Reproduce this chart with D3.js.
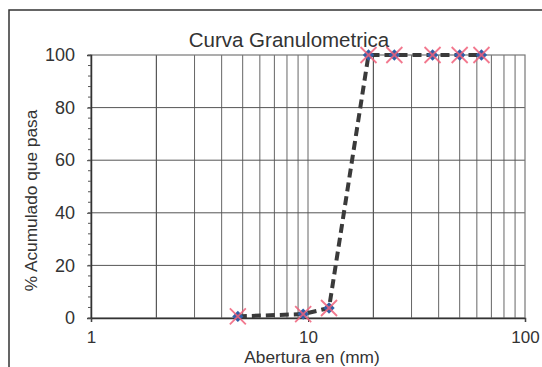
<!DOCTYPE html>
<html>
<head>
<meta charset="utf-8">
<script src="https://cdn.jsdelivr.net/npm/d3@7"></script>
<style>
  body { margin: 0; background: #fff; }
  svg { display: block; font-family: "Liberation Sans", Arial, sans-serif; }
</style>
</head>
<body>
<div id="chart"></div>
<script>
'use strict';

// sieve openings (mm) and cumulative % passing
const aberturas = [4.75, 9.5, 12.5, 19, 25, 37.5, 50, 63];
const pasa = [0.6, 1.5, 3.8, 100, 100, 100, 100, 100];
const y_ticks = [0, 20, 40, 60, 80, 100];
const x_ticks = [1, 10, 100];

const dims = { width: 542, height: 367, left: 91, right: 525, top: 55, bottom: 318 };
const font = '"Liberation Sans", Arial, sans-serif';

const svg = d3.select('#chart').append('svg')
  .attr('width', dims.width)
  .attr('height', dims.height);

// outer frame
svg.append('path')
  .attr('d', `M9,${dims.height} L9,10 L${dims.width},10`)
  .attr('fill', 'none')
  .attr('stroke', '#333')
  .attr('stroke-width', 1.5);

const xScale = d3.scaleLog().domain([1, 100]).range([dims.left, dims.right]);
const yScale = d3.scaleLinear().domain([0, 100]).range([dims.bottom, dims.top]);

// vertical log grid
const x_grid = [];
for (let dec = 1; dec < 100; dec *= 10) {
  for (let k = 2; k <= 9; k++) x_grid.push(dec * k);
}
x_grid.push(10);
svg.append('g').selectAll('line')
  .data(x_grid)
  .join('line')
  .attr('x1', d => xScale(d)).attr('x2', d => xScale(d))
  .attr('y1', dims.top).attr('y2', dims.bottom)
  .attr('stroke', d => (d === 2 || d === 20) ? '#333' : '#666')
  .attr('stroke-width', 1);

// horizontal grid
svg.append('g').selectAll('line')
  .data(y_ticks.filter(d => d > 0 && d < 100))
  .join('line')
  .attr('x1', dims.left).attr('x2', dims.right)
  .attr('y1', d => yScale(d)).attr('y2', d => yScale(d))
  .attr('stroke', '#555')
  .attr('stroke-width', 1);

// plot border
svg.append('rect')
  .attr('x', dims.left).attr('y', dims.top)
  .attr('width', dims.right - dims.left)
  .attr('height', dims.bottom - dims.top)
  .attr('fill', 'none')
  .attr('stroke', '#777')
  .attr('stroke-width', 1.2);

// y axis
const yAxis = d3.axisLeft(yScale).tickValues(y_ticks).tickSize(4).tickPadding(12);
const yAxisG = svg.append('g')
  .attr('transform', `translate(${dims.left},0)`)
  .call(yAxis);
yAxisG.select('.domain').attr('stroke', '#333').attr('stroke-width', 1.5);
yAxisG.selectAll('.tick line').attr('stroke', '#444');
yAxisG.selectAll('text').style('font-size', '18px').attr('fill', '#333')
  .style('font-family', font);

// minor ticks every 4
const y_minor = d3.range(0, 101, 4);
svg.append('g').selectAll('line')
  .data(y_minor)
  .join('line')
  .attr('x1', dims.left - 3).attr('x2', dims.left)
  .attr('y1', d => yScale(d)).attr('y2', d => yScale(d))
  .attr('stroke', '#555');

// x axis
const xAxis = d3.axisBottom(xScale).tickValues(x_ticks).tickFormat(d3.format('d')).tickSize(4).tickPadding(9);
const xAxisG = svg.append('g')
  .attr('transform', `translate(0,${dims.bottom})`)
  .call(xAxis);
xAxisG.select('.domain').attr('stroke', '#333').attr('stroke-width', 1.5);
xAxisG.selectAll('.tick line').attr('stroke', '#444');
xAxisG.selectAll('text').style('font-size', '17px').attr('fill', '#333')
  .style('font-family', font);

// titles
svg.append('text')
  .attr('x', 289).attr('y', 47)
  .attr('text-anchor', 'middle')
  .style('font-size', '20.5px')
  .attr('fill', '#333')
  .text('Curva Granulometrica');

svg.append('text')
  .attr('x', 312).attr('y', 363)
  .attr('text-anchor', 'middle')
  .style('font-size', '17.3px')
  .attr('fill', '#333')
  .text('Abertura en (mm)');

svg.append('text')
  .attr('transform', `translate(37,${(dims.top + dims.bottom) / 2 + 14}) rotate(-90)`)
  .attr('text-anchor', 'middle')
  .style('font-size', '17.3px')
  .attr('fill', '#333')
  .text('% Acumulado que pasa');

// data
const data = aberturas.map((a, i) => ({ x: a, y: pasa[i] }));

const line_gen = d3.line()
  .x(d => xScale(d.x))
  .y(d => yScale(d.y));

svg.append('path')
  .datum(data)
  .attr('d', line_gen)
  .attr('fill', 'none')
  .attr('stroke', '#3a3a3a')
  .attr('stroke-width', 4)
  .attr('stroke-dasharray', '9,5');

// diamond markers
svg.append('g').selectAll('path')
  .data(data)
  .join('path')
  .attr('transform', d => `translate(${xScale(d.x)},${yScale(d.y)}) rotate(45)`)
  .attr('d', 'M-4,-4 H4 V4 H-4 Z')
  .attr('fill', '#2f5fa8');

// cross markers
svg.append('g').selectAll('path')
  .data(data)
  .join('path')
  .attr('transform', d => `translate(${xScale(d.x)},${yScale(d.y)})`)
  .attr('d', 'M-8,-8 L8,8 M-8,8 L8,-8')
  .attr('stroke', '#f0607a')
  .attr('stroke-opacity', 0.85)
  .attr('stroke-width', 1.8)
  .attr('fill', 'none');
</script>
</body>
</html>
